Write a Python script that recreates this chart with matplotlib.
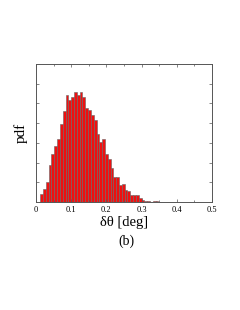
import numpy as np
import matplotlib.pyplot as plt

plt.rcParams["font.family"] = ["Liberation Serif", "DejaVu Serif"]

# histogram of delta theta, bin width 0.008
BIN_START = 0.012
BIN_WIDTH = 0.008
heights = [
    0.43, 0.64, 1.02, 1.86, 2.46, 2.84, 3.18, 3.93, 4.62, 5.42,
    5.16, 5.33, 5.58, 5.42, 5.55, 5.33, 4.74, 4.68, 4.40, 4.15,
    3.47, 3.05, 3.18, 2.42, 2.20, 1.73, 1.27, 1.27, 0.85, 0.90,
    0.59, 0.54, 0.37, 0.34, 0.34, 0.20, 0.09, 0.07, 0.04, 0.03,
    0.05, 0.08, 0.03, 0.02, 0.01, 0.01, 0.01, 0.005, 0.005, 0.005,
]
edges = BIN_START + BIN_WIDTH * np.arange(len(heights))

xticks = [0, 0.1, 0.2, 0.3, 0.4, 0.5]
xtick_labels = ["0", "0.1", "0.2", "0.3", "0.4", "0.5"]

fig = plt.figure(figsize=(2.4, 3.1), dpi=100)
ax = fig.add_axes([0.15, 0.348, 0.733, 0.446])

ax.bar(edges, heights, width=BIN_WIDTH, align="edge",
       color="#ee1111", edgecolor="#666666", linewidth=0.4)

ax.set_xlim(0, 0.5)
ax.set_ylim(0, 7)
ax.set_xticks(xticks)
ax.set_xticklabels(xtick_labels)
ax.set_xticks(np.arange(0.05, 0.5, 0.1), minor=True)
ax.set_yticks(range(1, 7))
ax.set_yticklabels([])

ax.tick_params(which="both", direction="in", top=True, right=True,
               length=2, width=0.5, color="#555555", labelsize=6, pad=3)
ax.tick_params(which="minor", length=1.5)
for s in ax.spines.values():
    s.set_color("#555555")
    s.set_linewidth(0.7)

ax.set_ylabel("pdf", fontsize=11, labelpad=3)
ax.set_xlabel("δθ [deg]", fontsize=10.5, labelpad=1)
fig.text(0.525, 0.222, "(b)", fontsize=10, ha="center", va="center")

plt.savefig("out.png", dpi=100)
